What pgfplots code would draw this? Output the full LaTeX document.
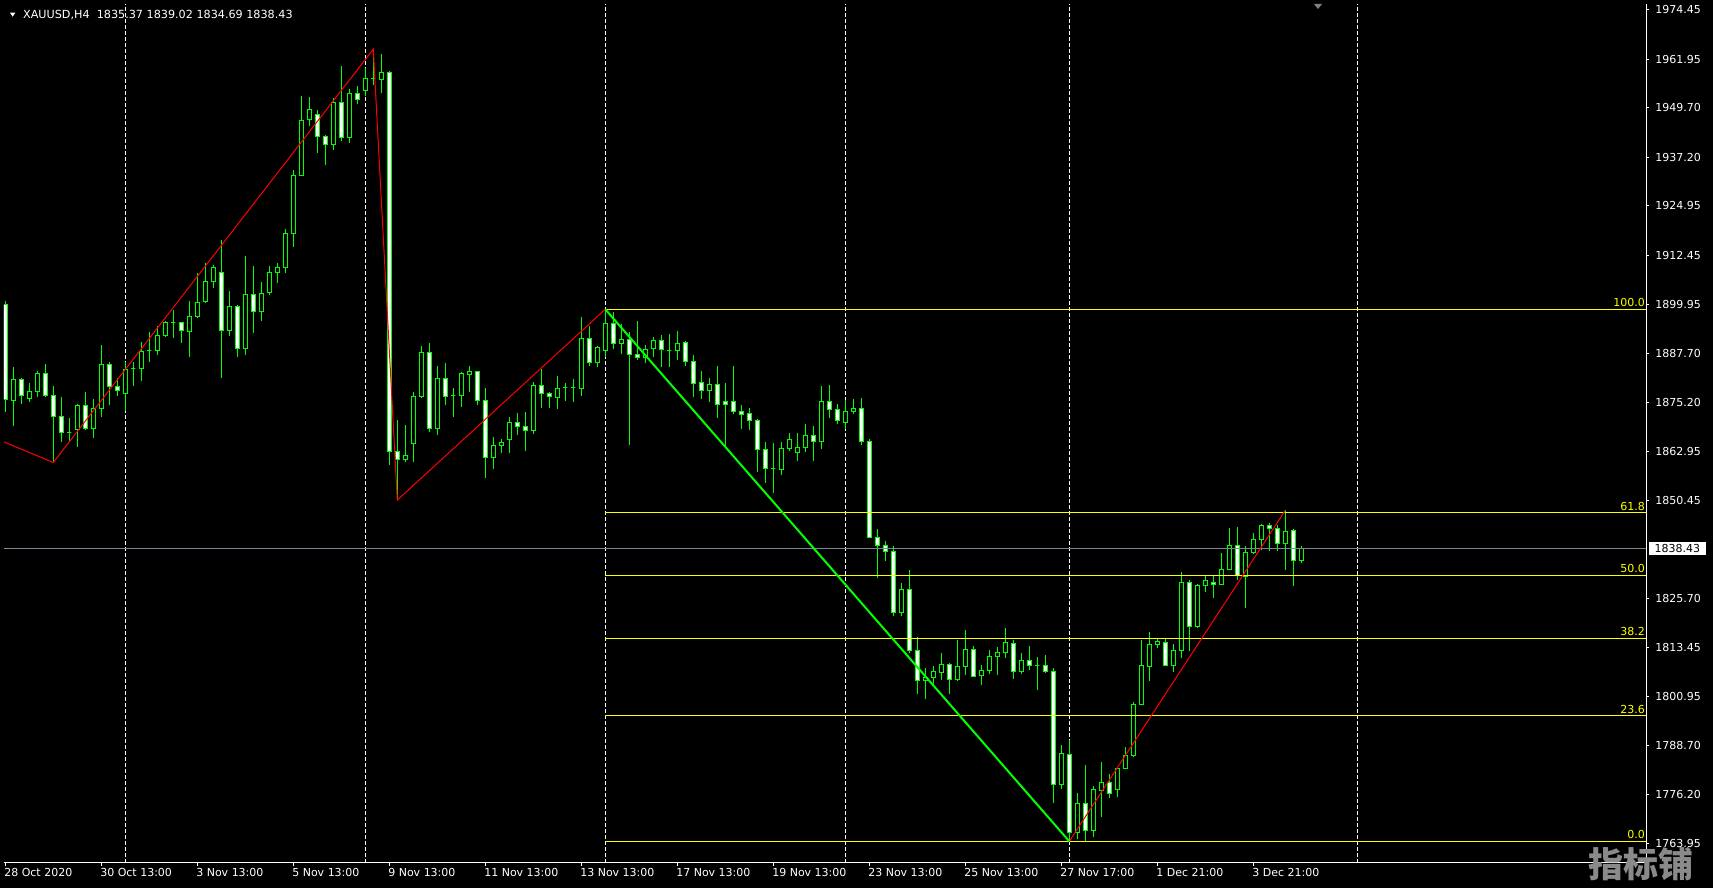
\documentclass[border=0pt]{standalone}
\usepackage{pgfplots}
\pgfplotsset{compat=1.18}
\usepackage{pgfplotstable}
\usepackage{fontspec}
\setmainfont{DejaVu Sans}
\newfontfamily\cjk{Noto Sans CJK SC}
\definecolor{mtgreen}{RGB}{0,255,0}
\definecolor{mtyellow}{RGB}{255,255,0}
\definecolor{mtred}{RGB}{255,0,0}
\definecolor{bidgray}{RGB}{119,136,153}
\definecolor{wmgray}{RGB}{138,138,138}
\pgfplotstableread{
k o h l c
0 1899.9 1900.9 1872.9 1876.1
1 1875.8 1884.1 1869.2 1881.1
2 1881.1 1881.5 1874.9 1877.1
3 1876.3 1880.1 1875.5 1878.1
4 1878.1 1883.2 1876.7 1882.6
5 1882.6 1885.0 1876.7 1877.1
6 1877.1 1879.3 1860.1 1871.8
7 1871.8 1876.6 1865.4 1867.7
8 1867.6 1871.3 1865.6 1867.6
9 1868.5 1875.0 1864.1 1874.5
10 1874.5 1877.9 1868.4 1868.7
11 1868.6 1876.1 1866.4 1873.8
12 1873.7 1889.8 1871.7 1884.9
13 1884.9 1885.5 1874.5 1879.3
14 1879.4 1881.4 1877.0 1878.3
15 1877.5 1885.6 1873.2 1883.6
16 1883.8 1885.6 1879.5 1883.8
17 1883.8 1890.5 1880.8 1888.2
18 1888.4 1893.0 1885.6 1888.4
19 1888.4 1894.7 1887.3 1892.2
20 1892.1 1895.8 1891.9 1895.5
21 1895.4 1898.6 1891.6 1895.4
22 1895.4 1895.6 1890.4 1893.5
23 1893.1 1900.9 1886.8 1897.0
24 1896.9 1907.9 1896.7 1900.6
25 1900.7 1910.4 1900.5 1905.9
26 1905.9 1910.0 1904.3 1909.4
27 1908.1 1916.3 1881.5 1893.5
28 1893.5 1903.4 1892.1 1899.5
29 1899.5 1899.8 1886.8 1888.9
30 1888.9 1912.3 1887.3 1902.6
31 1902.6 1909.7 1892.9 1898.3
32 1898.3 1905.7 1895.9 1902.8
33 1903.1 1909.7 1902.3 1908.1
34 1908.1 1910.4 1905.4 1909.4
35 1909.4 1919.0 1907.9 1918.0
36 1918.0 1933.9 1914.5 1932.6
37 1932.6 1952.7 1932.4 1946.5
38 1946.8 1952.3 1945.0 1949.3
39 1948.0 1949.1 1938.4 1942.5
40 1942.5 1942.7 1935.3 1940.5
41 1940.5 1952.1 1939.1 1951.1
42 1951.1 1960.3 1941.2 1942.2
43 1942.2 1954.4 1940.9 1953.4
44 1953.4 1955.1 1950.6 1951.8
45 1954.1 1959.7 1952.6 1957.1
46 1957.0 1964.5 1955.4 1957.0
47 1956.9 1963.3 1953.4 1958.7
48 1958.7 1958.9 1859.5 1862.8
49 1862.8 1870.8 1850.6 1860.9
50 1860.9 1869.6 1860.3 1861.9
51 1864.9 1877.9 1860.1 1876.8
52 1876.7 1889.5 1876.5 1887.9
53 1887.9 1890.3 1867.9 1868.6
54 1868.6 1884.5 1867.1 1881.4
55 1881.4 1885.2 1874.5 1876.7
56 1877.0 1878.9 1871.7 1877.0
57 1877.0 1883.0 1874.2 1882.5
58 1882.4 1884.5 1878.0 1883.1
59 1883.1 1883.3 1874.5 1875.8
60 1875.8 1878.9 1856.3 1861.4
61 1861.4 1866.5 1858.5 1864.4
62 1864.4 1866.0 1862.6 1865.2
63 1865.9 1871.6 1862.6 1870.3
64 1870.3 1872.6 1867.1 1869.2
65 1869.2 1872.9 1863.1 1868.2
66 1868.2 1880.4 1867.4 1879.6
67 1879.6 1883.7 1873.9 1877.6
68 1877.6 1877.8 1873.9 1876.8
69 1876.6 1881.9 1873.7 1878.8
70 1879.0 1880.1 1875.7 1879.0
71 1879.0 1881.1 1875.5 1879.0
72 1878.7 1896.8 1877.0 1891.5
73 1891.5 1894.5 1884.6 1885.4
74 1885.4 1889.4 1884.3 1889.2
75 1888.4 1898.8 1886.7 1895.3
76 1895.3 1898.0 1888.7 1890.2
77 1890.2 1895.0 1887.4 1891.2
78 1891.2 1893.0 1864.4 1887.4
79 1887.4 1895.8 1886.0 1886.7
80 1886.7 1889.7 1885.2 1888.7
81 1888.9 1891.7 1886.7 1891.0
82 1891.0 1892.2 1884.1 1888.7
83 1888.5 1892.6 1884.1 1888.5
84 1888.4 1893.2 1885.9 1890.2
85 1890.5 1890.7 1884.6 1885.7
86 1885.7 1887.2 1876.6 1880.1
87 1880.4 1883.1 1876.2 1878.3
88 1878.3 1881.4 1875.5 1879.8
89 1879.8 1884.6 1871.4 1874.8
90 1875.6 1880.1 1864.1 1874.8
91 1875.6 1884.6 1872.3 1873.0
92 1873.1 1874.6 1868.6 1872.3
93 1872.5 1873.8 1868.2 1870.8
94 1870.8 1871.0 1857.8 1863.4
95 1863.4 1865.4 1855.0 1858.6
96 1858.5 1864.9 1852.5 1858.5
97 1858.4 1865.2 1857.0 1863.7
98 1863.7 1867.5 1863.1 1865.9
99 1862.7 1867.5 1860.6 1863.9
100 1863.9 1869.7 1862.7 1867.0
101 1867.0 1869.2 1860.6 1865.5
102 1865.5 1879.3 1863.4 1875.6
103 1875.6 1879.6 1871.3 1873.5
104 1873.5 1874.8 1869.7 1870.8
105 1870.2 1875.8 1868.5 1873.0
106 1873.0 1876.1 1872.3 1873.8
107 1873.8 1876.3 1864.5 1865.4
108 1865.4 1866.0 1840.9 1841.2
109 1841.2 1843.2 1830.8 1839.2
110 1839.2 1840.2 1835.3 1837.7
111 1837.7 1838.9 1821.2 1822.2
112 1822.2 1829.6 1821.2 1828.1
113 1828.1 1832.9 1812.1 1812.7
114 1812.7 1815.9 1801.5 1805.1
115 1805.1 1808.1 1800.3 1805.8
116 1805.8 1808.6 1803.3 1807.4
117 1807.1 1811.9 1805.1 1809.1
118 1809.1 1809.4 1801.5 1805.3
119 1805.3 1815.2 1804.8 1808.6
120 1808.6 1817.7 1806.3 1812.9
121 1812.9 1813.7 1805.8 1806.0
122 1806.3 1808.9 1804.0 1807.6
123 1807.6 1812.7 1806.6 1811.1
124 1811.1 1813.4 1806.5 1812.2
125 1812.2 1818.3 1810.8 1814.7
126 1814.4 1815.2 1805.5 1807.4
127 1807.4 1811.9 1806.6 1810.1
128 1810.1 1813.7 1807.6 1808.9
129 1808.9 1810.9 1802.7 1808.9
130 1808.9 1811.4 1806.8 1807.4
131 1807.3 1808.1 1774.2 1778.8
132 1778.8 1788.7 1777.7 1786.6
133 1786.4 1789.9 1764.4 1766.7
134 1766.7 1776.5 1764.9 1774.0
135 1774.0 1783.6 1764.4 1767.2
136 1767.2 1778.5 1765.4 1777.5
137 1777.3 1784.4 1770.5 1779.3
138 1779.3 1781.3 1775.3 1776.5
139 1777.5 1783.3 1775.5 1782.8
140 1782.8 1788.2 1782.6 1786.1
141 1786.1 1799.5 1785.6 1799.0
142 1799.0 1815.2 1798.8 1808.9
143 1808.6 1817.2 1804.8 1814.2
144 1814.2 1815.4 1813.2 1814.9
145 1814.7 1815.4 1808.6 1808.9
146 1808.9 1814.2 1807.3 1812.7
147 1812.7 1832.4 1810.6 1829.8
148 1829.8 1830.3 1812.6 1818.6
149 1818.6 1829.3 1818.4 1829.1
150 1829.1 1831.6 1827.4 1830.3
151 1829.8 1831.6 1825.9 1829.3
152 1829.3 1837.2 1829.1 1833.1
153 1833.1 1843.6 1832.9 1839.2
154 1839.2 1843.7 1830.3 1831.6
155 1831.4 1838.9 1823.4 1837.4
156 1837.4 1842.2 1836.9 1840.7
157 1840.7 1844.5 1837.9 1844.2
158 1844.2 1844.7 1837.8 1843.5
159 1843.5 1844.2 1837.7 1839.7
160 1839.7 1848.0 1833.0 1842.7
161 1843.0 1843.2 1829.0 1835.4
162 1835.37 1839.02 1834.69 1838.43
}\candles
\pgfplotstableread{
k p
-0.17 1865.3
6 1860.1
46 1964.5
49 1850.6
75 1898.8
133 1764.4
160 1848.0
}\zigzag
\pgfplotstableread{
k p
75 1898.8
133 1764.4
}\fibline
\begin{document}
\begin{tikzpicture}[x=1pt,y=1pt]
\fill[black] (0,0) rectangle (856.5,444);
\begin{axis}[at={(2pt,12.5pt)}, anchor=south west, scale only axis,
  width=821pt, height=429.5pt,
  xmin=-0.1625, xmax=205.09, ymin=1758.93, ymax=1975.92,
  axis x line*=bottom, axis y line*=right,
  axis line style={white, line width=0.5pt},
  tick style={white, line width=0.5pt}, major tick length=1.5pt, tick align=outside,
  ytick={1974.45,1961.95,1949.70,1937.20,1924.95,1912.45,1899.95,1887.70,1875.20,1862.95,1850.45,1825.70,1813.45,1800.95,1788.70,1776.20,1763.95},
  yticklabels={1974.45,1961.95,1949.70,1937.20,1924.95,1912.45,1899.95,1887.70,1875.20,1862.95,1850.45,1825.70,1813.45,1800.95,1788.70,1776.20,1763.95},
  xtick={0,12,...,156},
  xticklabels={28 Oct 2020,30 Oct 13:00,3 Nov 13:00,5 Nov 13:00,9 Nov 13:00,11 Nov 13:00,13 Nov 13:00,17 Nov 13:00,19 Nov 13:00,23 Nov 13:00,25 Nov 13:00,27 Nov 17:00,1 Dec 21:00,3 Dec 21:00},
  ticklabel style={font=\fontsize{5.5}{6}\selectfont, text=white, inner sep=0pt},
  yticklabel style={anchor=west, xshift=3pt},
  xticklabel style={anchor=north west, xshift=-0.7pt, yshift=-1pt},
  clip=true,
]
% weekly separators
\pgfplotsinvokeforeach{15,45,75,105,133,169}{
  \draw[white, line width=0.5pt, dash pattern=on 2pt off 1pt] (#1,1758.93) -- (#1,1975.92);
}
% candles: wick from low to high, body between open and close
\pgfplotsinvokeforeach{0,...,162}{%
  \pgfplotstablegetelem{#1}{o}\of\candles \edef\cO{\pgfplotsretval}%
  \pgfplotstablegetelem{#1}{h}\of\candles \edef\cH{\pgfplotsretval}%
  \pgfplotstablegetelem{#1}{l}\of\candles \edef\cL{\pgfplotsretval}%
  \pgfplotstablegetelem{#1}{c}\of\candles \edef\cC{\pgfplotsretval}%
  \ifdim\cC pt<\cO pt \def\cF{white}\edef\cLo{\cC}\edef\cHi{\cO}\else\def\cF{black}\edef\cLo{\cO}\edef\cHi{\cC}\fi
  \pgfmathsetmacro\xa{#1-0.25}\pgfmathsetmacro\xb{#1+0.25}%
  \edef\temp{\noexpand\addplot[mtgreen, line width=0.5pt] coordinates {(#1,\cL) (#1,\cH)};%
    \noexpand\addplot[draw=mtgreen, fill=\cF, line width=0.5pt, line cap=rect, line join=miter] coordinates {(\xa,\cLo) (\xb,\cLo) (\xb,\cHi) (\xa,\cHi) (\xa,\cLo)};}%
  \temp
}
% bid line
\draw[bidgray, line width=0.5pt] (-0.1625,1838.43) -- (205.09,1838.43);
% fibonacci levels
\pgfplotsinvokeforeach{1898.8,1847.46,1831.6,1815.74,1796.12,1764.4}{
  \draw[mtyellow, line width=0.5pt] (75,#1) -- (205.09,#1);
}
\node[anchor=base east, inner sep=0pt, text=mtyellow, font=\fontsize{5.5}{6}\selectfont, yshift=1.2pt] at (205.0,1898.8) {100.0};
\node[anchor=base east, inner sep=0pt, text=mtyellow, font=\fontsize{5.5}{6}\selectfont, yshift=1.2pt] at (205.0,1847.46) {61.8};
\node[anchor=base east, inner sep=0pt, text=mtyellow, font=\fontsize{5.5}{6}\selectfont, yshift=1.2pt] at (205.0,1831.6) {50.0};
\node[anchor=base east, inner sep=0pt, text=mtyellow, font=\fontsize{5.5}{6}\selectfont, yshift=1.2pt] at (205.0,1815.74) {38.2};
\node[anchor=base east, inner sep=0pt, text=mtyellow, font=\fontsize{5.5}{6}\selectfont, yshift=1.2pt] at (205.0,1796.12) {23.6};
\node[anchor=base east, inner sep=0pt, text=mtyellow, font=\fontsize{5.5}{6}\selectfont, yshift=1.2pt] at (205.0,1764.4) {0.0};
% zigzag and trend line
\addplot[mtred, line width=0.5pt, no marks] table[x=k, y=p] {\zigzag};
\addplot[mtgreen, line width=1pt, no marks] table[x=k, y=p] {\fibline};
\end{axis}
% bid label (outside the clipped area)
\node[fill=white, text=black, anchor=west, inner sep=0pt, minimum width=28.3pt, minimum height=6.6pt, font=\fontsize{5.5}{6}\selectfont] at (824.3,169.8) {1838.43};
% title
\fill[white] (5,437.65) -- (7.65,437.65) -- (6.33,435.65) -- cycle;
\node[anchor=base west, inner sep=0pt, text=white, font=\fontsize{5.6}{6}\selectfont] at (11.35,434.85) {XAUUSD,H4\ \ 1835.37 1839.02 1834.69 1838.43};
% chart shift marker
\fill[gray] (657,442) -- (661,442) -- (659,439.5) -- cycle;
% watermark
\node[text=wmgray, font=\cjk\bfseries\fontsize{17.5}{17.5}\selectfont, inner sep=0pt] at (820.7,11.8) {指标铺};
\end{tikzpicture}
\end{document}
